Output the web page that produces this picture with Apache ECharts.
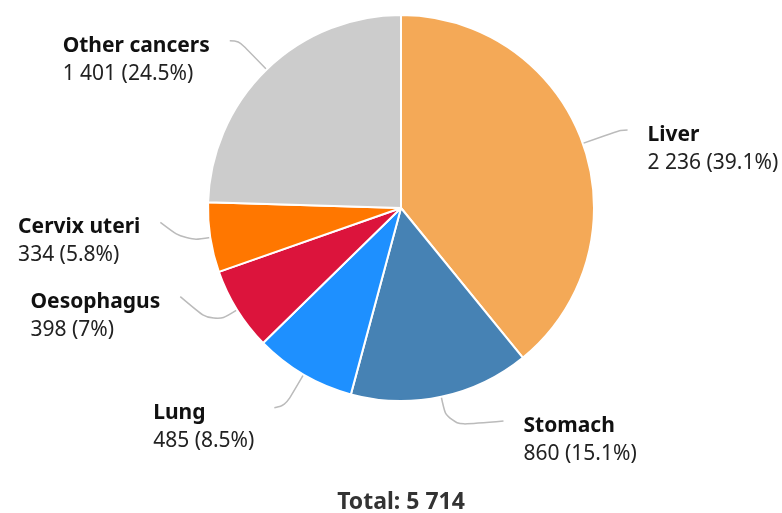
<!DOCTYPE html>
<html>
<head>
<meta charset="utf-8">
<script src="https://cdn.jsdelivr.net/npm/echarts@6/dist/echarts.min.js"></script>
<style>
  html, body { margin: 0; padding: 0; background: #fff; }
  #cancer-pie { width: 782px; height: 513px; }
</style>
</head>
<body>
<div id="cancer-pie"></div>
<script>
var categories = ['Liver', 'Stomach', 'Lung', 'Oesophagus', 'Cervix uteri', 'Other cancers'];
var cases = [2236, 860, 485, 398, 334, 1401];
var colors = ['#F4A957', '#4682B4', '#1E90FF', '#DC143C', '#FF7700', '#CCCCCC'];

var total = cases.reduce(function (a, b) { return a + b; }, 0);

function fmt(n) {
  return String(n).replace(/\B(?=(\d{3})+(?!\d))/g, ' ');
}
function pct(v) {
  var p = (v / total * 100).toFixed(1);
  return p.replace(/\.0$/, '');
}

// connector tweaks per slice: share of first segment, horizontal reach, lift of the end
var spoke = [1, 0.75, 0.9, 0.7, 0.63, 1];
var reach = [7, 56, 11, 33, 25, 9];
var lift = [0, 5, -2, 28, 19, 0];

var myChart = echarts.init(document.getElementById('cancer-pie'));
var option = {
  animation: false,
  textStyle: { fontFamily: 'Noto Sans' },
  title: {
    text: 'Total: ' + fmt(total),
    left: 396,
    textAlign: 'center',
    top: 486,
    textStyle: { fontSize: 23, fontWeight: 'bold', color: '#333', fontFamily: 'Noto Sans' }
  },
  series: [
    {
      type: 'pie',
      center: [401, 208],
      radius: 193,
      startAngle: 90,
      clockwise: true,
      itemStyle: { borderColor: '#fff', borderWidth: 2 },
      label: {
        formatter: function (p) {
          return '{n|' + p.name + '}\n{v|' + fmt(p.value) + ' (' + pct(p.value) + '%)}';
        },
        rich: {
          n: { fontSize: 21, fontWeight: 'bold', color: '#111', lineHeight: 28, align: 'left', fontFamily: 'Noto Sans' },
          v: { fontSize: 21, color: '#222', lineHeight: 28, align: 'left', fontFamily: 'Noto Sans' }
        }
      },
      labelLine: {
        length: 40,
        length2: 8,
        smooth: 0.4,
        lineStyle: { color: '#bbb', width: 1.5 }
      },
      labelLayout: function (p) {
        var pts = p.labelLinePoints;
        if (!pts) return {};
        var i = p.dataIndex;
        var e = pts[0], m = pts[1], q = pts[2];
        var right = q[0] >= m[0];
        var m2 = [e[0] + (m[0] - e[0]) * spoke[i], e[1] + (m[1] - e[1]) * spoke[i]];
        var end = [m2[0] + (right ? 1 : -1) * reach[i], m2[1] - lift[i]];
        return {
          x: end[0] + (right ? 20 : -20),
          y: end[1] - 9,
          align: right ? 'left' : 'right',
          verticalAlign: 'top',
          labelLinePoints: [e, m2, end]
        };
      },
      data: categories.map(function (c, i) {
        return { name: c, value: cases[i], itemStyle: { color: colors[i] } };
      })
    }
  ]
};
myChart.setOption(option);
</script>
</body>
</html>
